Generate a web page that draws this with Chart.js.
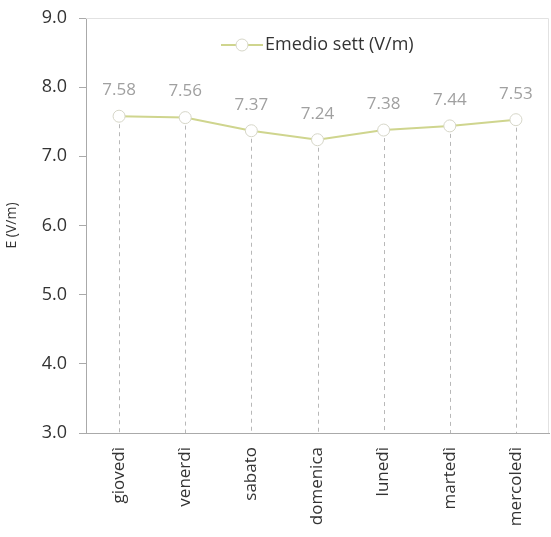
<!DOCTYPE html>
<html>
<head>
<meta charset="utf-8">
<script src="https://cdn.jsdelivr.net/npm/chart.js@4.4.1/dist/chart.umd.min.js"></script>
<style>
  html, body { margin: 0; padding: 0; background: #fff; }
  #wrap { width: 551px; height: 537px; }
</style>
</head>
<body>
<div id="wrap"><canvas id="eChart" width="551" height="537"></canvas></div>
<script>
const days = ['giovedì', 'venerdì', 'sabato', 'domenica', 'lunedì', 'martedì', 'mercoledì'];
const eMedio = [7.58, 7.56, 7.37, 7.24, 7.38, 7.44, 7.53];
const seriesLabel = 'Emedio sett (V/m)';
const yTitle = 'E (V/m)';
const yMin = 3, yMax = 9, yStep = 1;

const FONT = "'Open Sans', sans-serif";
const LINE_COLOR = '#cfd58e';
const POINT_BORDER = '#d6d6c8';

// dashed drop lines, value labels, frame and an in-plot legend
const extras = {
  id: 'extras',
  beforeDatasetsDraw(chart) {
    const { ctx, chartArea: a, scales: { x, y } } = chart;
    ctx.save();
    ctx.strokeStyle = '#e2e2e2';
    ctx.lineWidth = 1;
    ctx.beginPath();
    ctx.moveTo(a.left, a.top + 0.5);
    ctx.lineTo(a.right - 0.5, a.top + 0.5);
    ctx.lineTo(a.right - 0.5, a.bottom);
    ctx.stroke();

    ctx.strokeStyle = '#b8b8b8';
    ctx.setLineDash([4, 4]);
    eMedio.forEach((v, i) => {
      const px = Math.round(x.getPixelForValue(i)) + 0.5;
      ctx.beginPath();
      ctx.moveTo(px, y.getPixelForValue(v));
      ctx.lineTo(px, a.bottom);
      ctx.stroke();
    });
    ctx.restore();
  },
  afterDraw(chart) {
    const { ctx, scales: { x, y } } = chart;
    ctx.save();
    ctx.font = '17px ' + FONT;
    ctx.fillStyle = '#a0a0a0';
    ctx.textAlign = 'center';
    ctx.textBaseline = 'middle';
    eMedio.forEach((v, i) => {
      ctx.fillText(v.toFixed(2), x.getPixelForValue(i), y.getPixelForValue(v) - 26);
    });

    // legend
    const ly = 45;
    const textX = 265;
    ctx.strokeStyle = LINE_COLOR;
    ctx.lineWidth = 2;
    ctx.beginPath();
    ctx.moveTo(221, ly);
    ctx.lineTo(textX - 2, ly);
    ctx.stroke();
    ctx.beginPath();
    ctx.arc(242, ly, 6, 0, Math.PI * 2);
    ctx.fillStyle = '#fff';
    ctx.fill();
    ctx.strokeStyle = POINT_BORDER;
    ctx.lineWidth = 1;
    ctx.stroke();
    ctx.font = '18px ' + FONT;
    ctx.fillStyle = '#333';
    ctx.textAlign = 'left';
    ctx.fillText(seriesLabel, textX, ly);
    ctx.restore();
  }
};

new Chart(document.getElementById('eChart'), {
  type: 'line',
  data: {
    labels: days,
    datasets: [{
      label: seriesLabel,
      data: eMedio,
      borderColor: LINE_COLOR,
      borderWidth: 2,
      tension: 0,
      pointRadius: 6,
      pointBackgroundColor: '#fff',
      pointBorderColor: POINT_BORDER,
      pointBorderWidth: 1
    }]
  },
  options: {
    responsive: false,
    animation: false,
    layout: { autoPadding: false, padding: { top: 18, right: 2, left: 0, bottom: 0 } },
    plugins: { legend: { display: false }, tooltip: { enabled: false } },
    scales: {
      y: {
        min: yMin, max: yMax,
        afterFit: s => { s.width = 86; s.paddingTop = 0; s.paddingBottom = 0; },
        ticks: {
          stepSize: yStep,
          color: '#333',
          font: { family: FONT, size: 18 },
          padding: 12,
          callback: v => v.toFixed(1)
        },
        grid: { drawOnChartArea: false, tickLength: 7, color: '#aaa' },
        border: { color: '#aaa' },
        title: { display: true, text: yTitle, color: '#333', font: { family: FONT, size: 14 } }
      },
      x: {
        offset: true,
        afterFit: s => { s.height = 104; s.paddingLeft = 0; s.paddingRight = 0; },
        ticks: {
          color: '#333',
          font: { family: FONT, size: 17 },
          minRotation: 90, maxRotation: 90,
          padding: 14
        },
        grid: { drawOnChartArea: false, drawTicks: false, offset: true },
        border: { color: '#aaa' }
      }
    }
  },
  plugins: [extras]
});
</script>
</body>
</html>
